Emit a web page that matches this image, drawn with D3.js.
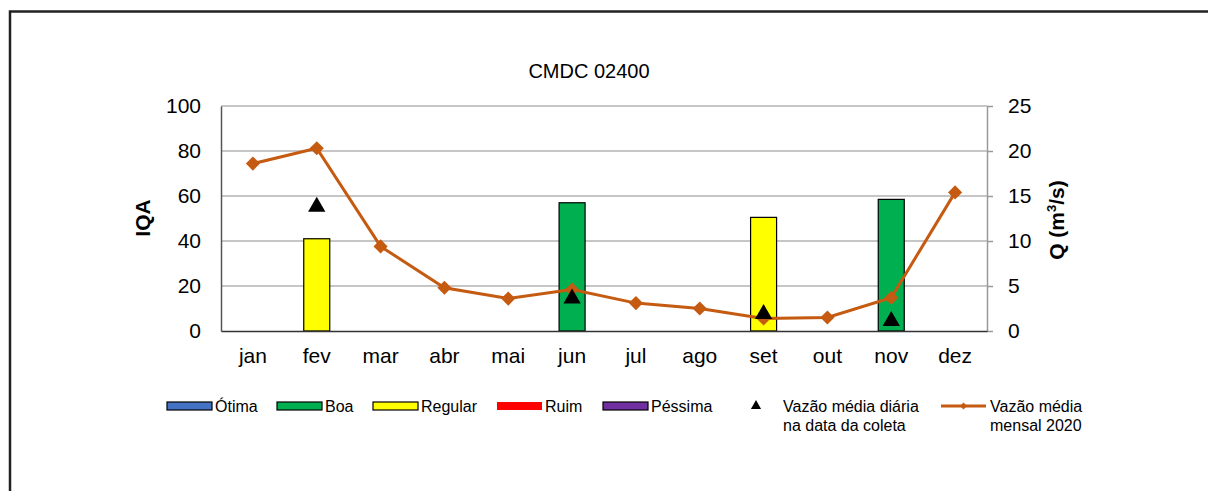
<!DOCTYPE html>
<html>
<head>
<meta charset="utf-8">
<script src="https://cdn.jsdelivr.net/npm/d3@7"></script>
<style>
  body { margin: 0; background: #fff; }
  text { font-family: Arial, "Liberation Sans", sans-serif; fill: #000; }
  .legend text { font-size: 16px; }
</style>
</head>
<body>
<script>
// chart data
let months = ["jan", "fev", "mar", "abr", "mai", "jun", "jul", "ago", "set", "out", "nov", "dez"];
let iqaMonths = ["fev", "jun", "set", "nov"];
let iqaValues = [41, 57, 50.5, 58.5];
let iqaClass = ["Regular", "Boa", "Regular", "Boa"];
let dailyFlow = [13.8, 3.6, 1.9, 1.1];
let monthlyFlow = [18.6, 20.3, 9.4, 4.8, 3.6, 4.6, 3.1, 2.5, 1.4, 1.5, 3.7, 15.4];
let iqaTicks = [0, 20, 40, 60, 80, 100];
let qTicks = [0, 5, 10, 15, 20, 25];

let classColors = {
  "Ótima": "#4472C4",
  "Boa": "#00B050",
  "Regular": "#FFFF00",
  "Ruim": "#FF0000",
  "Péssima": "#7030A0"
};
let lineColor = "#C55A11";

let width = 1208, height = 491;
let plot = { left: 221, right: 987, top: 106, bottom: 331 };

let svg = d3.select("body").append("svg")
  .attr("width", width)
  .attr("height", height);

// outer frame (only top and left edges visible)
svg.append("path")
  .attr("d", "M10," + height + " V11.5 H" + width)
  .attr("fill", "none")
  .attr("stroke", "#222")
  .attr("stroke-width", 2.5);

let x = d3.scaleBand().domain(months).range([plot.left, plot.right]);
let yL = d3.scaleLinear().domain([0, 100]).range([plot.bottom, plot.top]);
let yR = d3.scaleLinear().domain([0, 25]).range([plot.bottom, plot.top]);

// gridlines
svg.append("g")
  .selectAll("line")
  .data(iqaTicks.slice(1))
  .enter().append("line")
  .attr("x1", plot.left).attr("x2", plot.right)
  .attr("y1", d => yL(d)).attr("y2", d => yL(d))
  .attr("stroke", "#b3b3b3")
  .attr("stroke-width", 1.5);

// left axis
let leftAxis = svg.append("g")
  .attr("transform", "translate(" + plot.left + ",0)")
  .call(d3.axisLeft(yL).tickValues(iqaTicks).tickSize(0).tickPadding(20));
leftAxis.select(".domain").attr("stroke", "#555").attr("stroke-width", 1.5);
leftAxis.selectAll("text").style("font-size", "21px").attr("font-family", null);

// right axis
let rightAxis = svg.append("g")
  .attr("transform", "translate(" + plot.right + ",0)")
  .call(d3.axisRight(yR).tickValues(qTicks).tickSize(6).tickSizeOuter(0).tickPadding(15));
rightAxis.select(".domain").attr("stroke", "#999").attr("stroke-width", 1.5);
rightAxis.selectAll(".tick line").attr("stroke", "#999").attr("stroke-width", 1.5);
rightAxis.selectAll("text").style("font-size", "21px").attr("font-family", null);

// bars
svg.append("g")
  .selectAll("rect")
  .data(iqaMonths)
  .enter().append("rect")
  .attr("x", d => x(d) + x.bandwidth() / 2 - 13)
  .attr("width", 26)
  .attr("y", (d, i) => yL(iqaValues[i]))
  .attr("height", (d, i) => plot.bottom - yL(iqaValues[i]))
  .attr("fill", (d, i) => classColors[iqaClass[i]])
  .attr("stroke", "#000")
  .attr("stroke-width", 1.2);

// bottom axis
let bottomAxis = svg.append("g")
  .attr("transform", "translate(0," + plot.bottom + ")")
  .call(d3.axisBottom(x).tickSize(0).tickPadding(17));
bottomAxis.select(".domain").attr("stroke", "#333").attr("stroke-width", 1.5);
bottomAxis.selectAll("text").style("font-size", "21px").attr("font-family", null);

// monthly flow line
let line = d3.line()
  .x((d, i) => x(months[i]) + x.bandwidth() / 2)
  .y(d => yR(d));

svg.append("path")
  .datum(monthlyFlow)
  .attr("d", line)
  .attr("fill", "none")
  .attr("stroke", lineColor)
  .attr("stroke-width", 3);

svg.append("g")
  .selectAll("path")
  .data(monthlyFlow)
  .enter().append("path")
  .attr("d", d3.symbol().type(d3.symbolSquare).size(100))
  .attr("transform", (d, i) => "translate(" + (x(months[i]) + x.bandwidth() / 2) + "," + yR(d) + ") rotate(45)")
  .attr("fill", lineColor);

// daily flow triangles
svg.append("g")
  .selectAll("path")
  .data(dailyFlow)
  .enter().append("path")
  .attr("d", d3.symbol().type(d3.symbolTriangle).size(130))
  .attr("transform", (d, i) => "translate(" + (x(iqaMonths[i]) + x.bandwidth() / 2) + "," + yR(d) + ")")
  .attr("fill", "#000");

// titles
svg.append("text")
  .attr("x", 589).attr("y", 78)
  .attr("text-anchor", "middle")
  .style("font-size", "20px")
  .text("CMDC 02400");

svg.append("text")
  .attr("transform", "translate(150,218) rotate(-90)")
  .attr("text-anchor", "middle")
  .style("font-size", "21px")
  .style("font-weight", "bold")
  .text("IQA");

let qTitle = svg.append("text")
  .attr("transform", "translate(1064,220) rotate(-90)")
  .attr("text-anchor", "middle")
  .style("font-size", "21px")
  .style("font-weight", "bold");
qTitle.append("tspan").text("Q (m");
qTitle.append("tspan").attr("dy", -8).style("font-size", "13px").text("3");
qTitle.append("tspan").attr("dy", 8).text("/s)");

// legend
let legendItems = ["Ótima", "Boa", "Regular", "Ruim", "Péssima"];
let legendX = [167, 277, 373, 497, 603];
let legend = svg.append("g").attr("class", "legend");

function legendText(tx, ty, label) {
  legend.append("text")
    .attr("x", tx).attr("y", ty)
    .text(label);
}

legendItems.forEach(function(name, i) {
  legend.append("rect")
    .attr("x", legendX[i]).attr("y", 402)
    .attr("width", 45).attr("height", 8)
    .attr("fill", classColors[name])
    .attr("stroke", name === "Ruim" ? "none" : "#000")
    .attr("stroke-width", 1.2);
  legendText(legendX[i] + 48, 412, name);
});

legend.append("path")
  .attr("d", d3.symbol().type(d3.symbolTriangle).size(45))
  .attr("transform", "translate(756,406)")
  .attr("fill", "#000");
legendText(783, 412, "Vazão média diária");
legendText(783, 431, "na data da coleta");

legend.append("line")
  .attr("x1", 941).attr("x2", 986)
  .attr("y1", 406).attr("y2", 406)
  .attr("stroke", lineColor).attr("stroke-width", 3);
legend.append("path")
  .attr("d", d3.symbol().type(d3.symbolSquare).size(24))
  .attr("transform", "translate(963.5,406) rotate(45)")
  .attr("fill", lineColor);
legendText(990, 412, "Vazão média");
legendText(990, 431, "mensal 2020");
</script>
</body>
</html>
